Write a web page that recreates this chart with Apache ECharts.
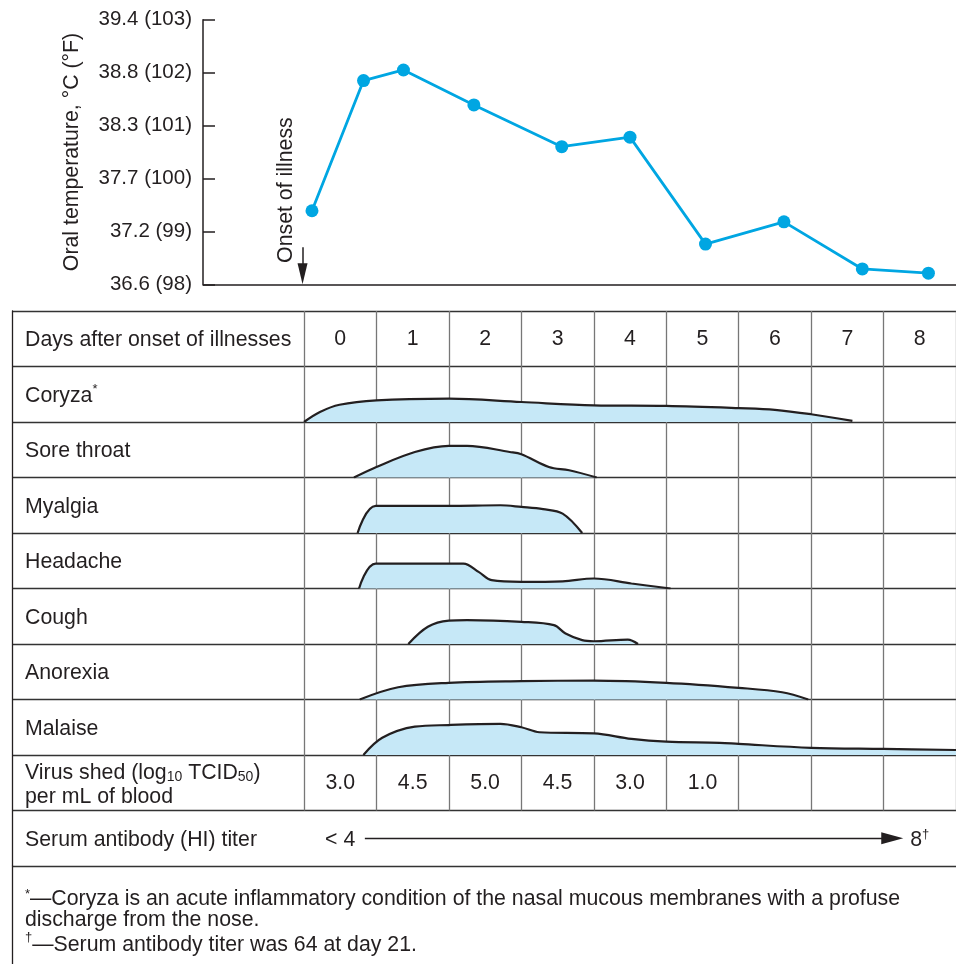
<!DOCTYPE html>
<html><head><meta charset="utf-8">
<script src="https://cdn.jsdelivr.net/npm/echarts@6/dist/echarts.min.js"></script>
<style>html,body{margin:0;padding:0;background:#fff}#c{width:956px;height:964px}</style>
</head><body><div id="c"></div>
<script>
// ---------------- data ----------------
const dayLabels = ['0','1','2','3','4','5','6','7','8'];
const tempDays = [0.13, 0.84, 1.39, 2.36, 3.57, 4.51, 5.55, 6.63, 7.71, 8.62];
const tempF = [99.39, 101.85, 102.05, 101.39, 100.6, 100.78, 98.76, 99.18, 98.29, 98.21];
const tickF = [98, 99, 100, 101, 102, 103];
const tickC = ['36.6', '37.2', '37.7', '38.3', '38.8', '39.4'];
const rowLabels = ['Days after onset of illnesses', 'Coryza*', 'Sore throat', 'Myalgia', 'Headache', 'Cough', 'Anorexia', 'Malaise', 'Virus shed (log10 TCID50) per mL of blood', 'Serum antibody (HI) titer'];
const symptomNames = ['Coryza', 'Sore throat', 'Myalgia', 'Headache', 'Cough', 'Anorexia', 'Malaise'];
const coryza = [[0,0],[0.22,0.18],[0.49,0.31],[1,0.39],[2,0.42],[3,0.36],[4,0.3],[5,0.29],[6,0.25],[6.5,0.22],[7,0.14],[7.57,0.02]];
const soreThroat = [[0.69,0],[1,0.19],[1.53,0.46],[2,0.57],[2.25,0.57],[2.84,0.46],[3,0.42],[3.38,0.19],[3.66,0.13],[4.04,0]];
const myalgia = [[0.74,0],[0.99,0.49],[2,0.49],[2.71,0.5],[3,0.47],[3.3,0.43],[3.57,0.35],[3.84,0]];
const headache = [[0.76,0],[0.99,0.45],[2.2,0.45],[2.41,0.3],[2.59,0.15],[3,0.12],[3.57,0.13],[4,0.18],[4.52,0.09],[5.06,0]];
const cough = [[1.44,0],[1.71,0.31],[2,0.42],[2.25,0.43],[3,0.4],[3.45,0.34],[3.61,0.19],[3.84,0.07],[4,0.05],[4.47,0.08],[4.61,0]];
const anorexia = [[0.77,0],[1.3,0.22],[2,0.3],[3,0.33],[4,0.34],[5,0.3],[6,0.21],[6.6,0.13],[6.96,0]];
const malaise = [[0.82,0],[1.08,0.31],[1.53,0.51],[2,0.54],[2.71,0.56],[3,0.5],[3.25,0.41],[4,0.39],[4.52,0.29],[5,0.24],[5.74,0.22],[6,0.2],[7,0.13],[8,0.11],[9,0.09]];
const virusShed = ['3.0', '4.5', '5.0', '4.5', '3.0', '1.0', '', '', ''];
const serumStart = '< 4';
const serumEnd = '8';
const serumArrowDays = [0.84, 8.12];
const onsetArrowF = [98.7, 98.2];
const footnotes = ['—Coryza is an acute inflammatory condition of the nasal mucous membranes with a profuse', 'discharge from the nose.', '—Serum antibody titer was 64 at day 21.'];

// ---------------- layout ----------------
const FONT = '"Liberation Sans", Arial, Helvetica, sans-serif';
const INK = '#231F20';
const BLUE = '#00A6E2';
const FILL = '#C6E8F7';
const X0 = 304, COL = 73.67, ND = 9, TOP = 311, ROW = 55.5;
const TW = COL * ND;
const FS = 21.3;

const grids = [], xAxes = [], yAxes = [], series = [];
const hidden = {show:false};
function addGrid(g){ grids.push(g); return grids.length - 1; }

// temperature chart
const g0 = addGrid({left:203, top:19.7, width: X0 + TW - 203, height:264.6});
xAxes.push({type:'value', gridIndex:g0, min:(203 - X0)/COL, max:ND,
  axisLine:{show:true, onZero:false, lineStyle:{color:INK, width:1.5}}, axisTick:hidden, axisLabel:hidden, splitLine:hidden});
yAxes.push({type:'value', gridIndex:g0, min:98, max:103, interval:1,
  axisLine:{show:true, onZero:false, lineStyle:{color:INK, width:1.5}},
  axisTick:{show:true, inside:true, length:12, lineStyle:{color:INK, width:1.5}},
  splitLine:hidden,
  axisLabel:{color:INK, fontSize:20.5, fontFamily:FONT, margin:11,
    formatter: v => { const i = tickF.indexOf(v); return i < 0 ? '' : tickC[i] + ' (' + v + ')'; }},
  name:'Oral temperature, °C (°F)', nameLocation:'middle', nameGap:120,
  nameTextStyle:{color:INK, fontSize:FS, fontFamily:FONT}});
series.push({type:'line', xAxisIndex:0, yAxisIndex:0, data: tempDays.map((d,i)=>[d, tempF[i]]),
  symbol:'circle', symbolSize:13, itemStyle:{color:BLUE}, lineStyle:{color:BLUE, width:2.8}, animation:false, z:5,
  markLine:{silent:true, animation:false, symbol:['none','triangle'], symbolSize:10,
    lineStyle:{color:INK, width:1.5, type:'solid'}, label:hidden,
    data:[[{coord:[0, onsetArrowF[0]], symbol:'none'},{coord:[0, onsetArrowF[1]], symbol:'triangle', symbolSize:[10,21]}]]}});
series.push({type:'scatter', xAxisIndex:0, yAxisIndex:0, data:[[-0.23, 99.78]], symbolSize:0, animation:false,
  itemStyle:{opacity:1},
  label:{show:true, position:'inside', rotate:90, formatter:'Onset of illness', color:INK, fontSize:FS, fontFamily:FONT}});

// label column / row lines
const g1 = addGrid({left:12, top:TOP, width:X0 + TW - 12, height:ROW*10});
xAxes.push({type:'value', gridIndex:g1, min:0, max:1, show:false});
const richRow = {
  'Coryza*': '{t|Coryza}{sup|*}',
  'Virus shed (log10 TCID50) per mL of blood': '{t|Virus shed (log}{sub|10}{t| TCID}{sub|50}{t|)}\n{t|per mL of blood}'
};
yAxes.push({type:'category', gridIndex:g1, data:rowLabels, inverse:true, boundaryGap:true,
  axisLine:{show:true, onZero:false, lineStyle:{color:INK, width:1.3}}, axisTick:hidden,
  splitLine:{show:true, interval:0, lineStyle:{color:'#333', width:1.3}},
  axisLabel:{inside:true, interval:0, margin:13, color:INK, fontFamily:FONT, fontSize:FS,
    formatter: v => richRow[v] || ('{t|' + v + '}'),
    rich:{t:{fontSize:FS, fontFamily:FONT, color:INK, lineHeight:23, padding:[3,0,0,0]},
          sup:{fontSize:13, fontFamily:FONT, color:INK, padding:[0,0,10,0]},
          sub:{fontSize:14, fontFamily:FONT, color:INK, padding:[12,0,0,0]}}}});

// day columns grid
const g2 = addGrid({left:X0, top:TOP, width:TW, height:ROW*9});
xAxes.push({type:'category', gridIndex:g2, data:dayLabels, boundaryGap:true,
  axisLine:hidden, axisTick:hidden, axisLabel:hidden,
  splitLine:{show:true, interval:0, lineStyle:{color:'#777', width:1.3}}});
yAxes.push({type:'value', gridIndex:g2, min:0, max:9, inverse:true, show:false});
const cellLabel = {show:true, position:'inside', color:INK, fontSize:FS, fontFamily:FONT, padding:[3,0,0,0]};
series.push({type:'scatter', xAxisIndex:2, yAxisIndex:2, symbolSize:0, animation:false, itemStyle:{opacity:1},
  data: dayLabels.map((d,i)=>({value:[i, 0.5], label:{formatter:d}})), label:cellLabel});
series.push({type:'scatter', xAxisIndex:2, yAxisIndex:2, symbolSize:0, animation:false, itemStyle:{opacity:1},
  data: virusShed.map((v,i)=>({value:[i, 8.5], label:{formatter:v}})), label:cellLabel});

// symptom rows
const curves = [coryza, soreThroat, myalgia, headache, cough, anorexia, malaise];
curves.forEach((c, k) => {
  const gi = addGrid({left:X0, top:TOP + ROW*(k+1), width:TW, height:ROW});
  xAxes.push({type:'value', gridIndex:gi, min:0, max:ND, show:false});
  yAxes.push({type:'value', gridIndex:gi, min:0, max:1, show:false});
  series.push({type:'line', name:symptomNames[k], xAxisIndex:xAxes.length-1, yAxisIndex:yAxes.length-1,
    data:c, smooth:0.35, symbol:'none', animation:false,
    lineStyle:{color:INK, width:2.2}, areaStyle:{color:FILL, opacity:1, origin:'start'}});
});

// serum row
const gS = addGrid({left:X0, top:TOP + ROW*9, width:TW, height:ROW});
xAxes.push({type:'value', gridIndex:gS, min:0, max:ND, show:false});
yAxes.push({type:'value', gridIndex:gS, min:0, max:1, show:false});
series.push({type:'scatter', xAxisIndex:xAxes.length-1, yAxisIndex:yAxes.length-1, symbolSize:0, animation:false,
  itemStyle:{opacity:1},
  data:[{value:[0.5,0.5], label:{formatter:serumStart}}, {value:[8.5,0.5], label:{formatter:'{t|' + serumEnd + '}{sup|†}'}}],
  label:{show:true, position:'inside', color:INK, fontSize:FS, fontFamily:FONT, padding:[3,0,0,0],
    rich:{t:{fontSize:FS, fontFamily:FONT, color:INK}, sup:{fontSize:13, fontFamily:FONT, color:INK, padding:[0,0,10,0]}}},
  markLine:{silent:true, animation:false, symbol:['none','triangle'], symbolSize:10,
    lineStyle:{color:INK, width:1.3, type:'solid'}, label:hidden,
    data:[[{coord:[serumArrowDays[0], 0.5], symbol:'none'},{coord:[serumArrowDays[1], 0.5], symbol:'triangle', symbolSize:[12,22]}]]}});

// footnote area border
const gF = addGrid({left:12, top:TOP + ROW*10, width:X0 + TW - 12, height:964 - (TOP + ROW*10)});
xAxes.push({type:'value', gridIndex:gF, min:0, max:1, show:false});
yAxes.push({type:'value', gridIndex:gF, min:0, max:1, axisLine:{show:true, onZero:false, lineStyle:{color:INK, width:1.3}},
  axisTick:hidden, axisLabel:hidden, splitLine:hidden});

const option = {
  animation:false,
  backgroundColor:'#fff',
  title:{left:25, top:888, padding:0,
    text:'{sup|*}{t|' + footnotes[0] + '}\n{t|' + footnotes[1] + '}\n{sup2|†}{t|' + footnotes[2] + '}',
    textStyle:{fontWeight:'normal', fontSize:FS, fontFamily:FONT, color:INK,
      rich:{t:{fontSize:FS, fontFamily:FONT, fontWeight:'normal', color:INK, lineHeight:21},
        sup:{fontSize:13, fontFamily:FONT, fontWeight:'normal', color:INK, padding:[0,0,9,0]},
        sup2:{fontSize:13, fontFamily:FONT, fontWeight:'normal', color:INK, padding:[0,0,16,0]}}}},
  grid:grids, xAxis:xAxes, yAxis:yAxes, series:series
};
const chart = echarts.init(document.getElementById('c'));
chart.setOption(option);
</script></body></html>
